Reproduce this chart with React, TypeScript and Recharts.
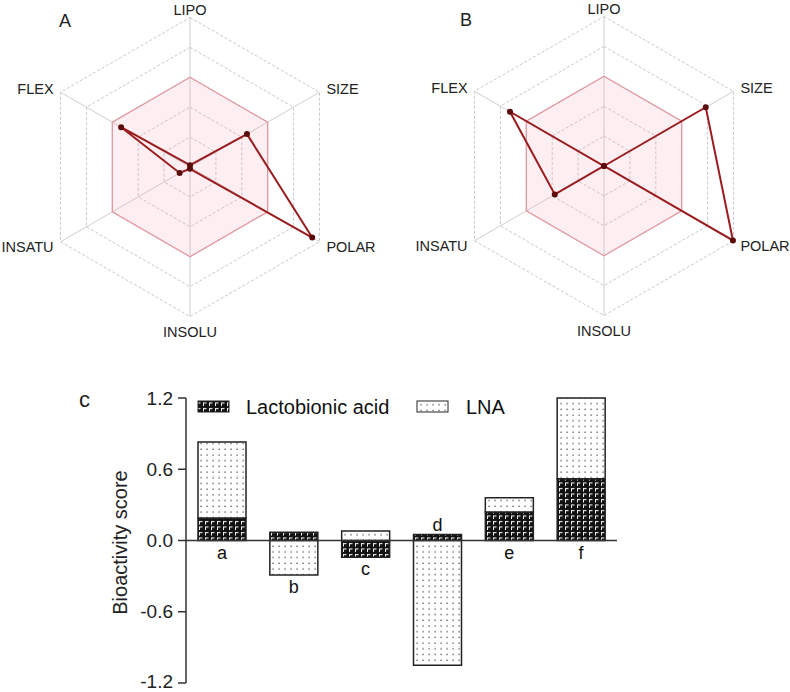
import {
    RadarChart,
    Radar,
    PolarGrid,
    PolarAngleAxis,
    PolarRadiusAxis,
    ComposedChart,
    Bar,
    Line,
    LabelList,
    XAxis,
    YAxis,
    ReferenceLine,
    Label
} from 'recharts';

const FONT = '"Liberation Sans", Arial, sans-serif';

// radar panels (SwissADME style), scale 0..5
const RADAR_AXES = ['LIPO', 'SIZE', 'POLAR', 'INSOLU', 'INSATU', 'FLEX'];
const RADAR_A = [0.06, 2.2, 4.72, 0.06, 0.4, 2.66];
const RADAR_B = [0, 3.93, 4.98, 0, 1.9, 3.63];
const IDEAL_ZONE = [3, 3, 3, 3, 3, 3];

// bar panel c
const CATEGORIES = ['a', 'b', 'c', 'd', 'e', 'f'];
const LACTOBIONIC = [0.19, 0.07, -0.14, 0.05, 0.24, 0.52];
const LNA = [0.64, -0.29, 0.08, -1.05, 0.12, 0.68];
const LABEL_SIDE = ['below', 'below', 'below', 'above', 'below', 'below'];
const Y_TICKS = [1.2, 0.6, 0, -0.6, -1.2];

const radarData = (values: number[]) =>
    RADAR_AXES.map((axis, i) => ({ axis, value: values[i], ideal: IDEAL_ZONE[i] }));

const barData = CATEGORIES.map((name, i) => {
    const vals = [LACTOBIONIC[i], LNA[i]];
    const pos = vals.filter(v => v > 0).reduce((s, v) => s + v, 0);
    const neg = vals.filter(v => v < 0).reduce((s, v) => s + v, 0);
    return {
        name,
        lacto: LACTOBIONIC[i],
        lna: LNA[i],
        anchor: LABEL_SIDE[i] === 'above' ? pos : neg,
    };
});

const AngleTick = (props: any) => {
    const { x, y, payload, textAnchor } = props;
    const dy = payload.value === 'INSOLU' ? 7 : payload.value === 'LIPO' ? 0 : 1;
    return (
        <text x={x} y={y + dy} textAnchor={textAnchor} dominantBaseline="central"
            fontSize={14.5} fill="#222" fontFamily={FONT}>
            {payload.value}
        </text>
    );
};

const SwissRadar = ({ values, cx, cy }: { values: number[]; cx: number; cy: number }) => (
    <RadarChart width={395} height={345} data={radarData(values)} cx={cx} cy={cy}
        outerRadius={149.5} margin={{ top: 0, right: 0, bottom: 0, left: 0 }}>
        <PolarGrid gridType="polygon" radialLines={false} stroke="#c9c9c9" strokeDasharray="3 2" />
        <PolarGrid gridType="polygon" polarRadius={[]} stroke="#cfcfcf" />
        <PolarRadiusAxis domain={[0, 5]} tickCount={6} axisLine={false} tick={false} />
        <PolarAngleAxis dataKey="axis" tick={<AngleTick />} tickLine={false} axisLine={false} />
        <Radar dataKey="ideal" stroke="#e39aa2" strokeWidth={1.3} fill="#f2a7b3"
            fillOpacity={0.18} isAnimationActive={false} />
        <Radar dataKey="value" stroke="#9b1c1f" strokeWidth={2} fill="none"
            dot={{ r: 2, fill: '#5c0b0b', stroke: '#5c0b0b' }} isAnimationActive={false} />
    </RadarChart>
);

const BarLegend = () => (
    <svg width={320} height={22} style={{ display: 'block' }}>
        <rect x={8} y={5} width={31} height={11} fill="url(#lactoPat)" stroke="#222" strokeWidth={1} />
        <text x={56} y={18} fontSize={20} fill="#111" fontFamily={FONT}>Lactobionic acid</text>
        <rect x={227} y={5} width={31} height={11} fill="url(#lnaPat)" stroke="#222" strokeWidth={1} />
        <text x={276} y={18} fontSize={20} fill="#111" fontFamily={FONT}>LNA</text>
    </svg>
);

const LetterLabel = (props: any) => {
    const { x, y, index } = props;
    const above = LABEL_SIDE[index] === 'above';
    return (
        <text x={x} y={above ? y - 4 : y + 18} textAnchor="middle" fontSize={18}
            fill="#111" fontFamily={FONT}>
            {CATEGORIES[index]}
        </text>
    );
};

const panelLetter = (left: number, top: number, size: number): React.CSSProperties => ({
    position: 'absolute', left, top, fontSize: size, fontFamily: FONT, color: '#222', lineHeight: 1,
});

const App = () => {
    return (
        <div style={{ position: 'absolute', left: 0, top: 0, width: 790, height: 692, background: '#fff', fontFamily: FONT }}>
            <div style={{ position: 'absolute', left: 0, top: 0 }}>
                <SwissRadar values={RADAR_A} cx={190} cy={167} />
            </div>
            <div style={{ position: 'absolute', left: 395, top: 0 }}>
                <SwissRadar values={RADAR_B} cx={209} cy={166} />
            </div>
            <div style={panelLetter(59, 12, 18)}>A</div>
            <div style={panelLetter(460, 11, 18)}>B</div>
            <div style={panelLetter(79, 389, 22)}>c</div>

            <div style={{ position: 'absolute', left: 0, top: 355 }}>
                <ComposedChart width={790} height={337} data={barData} stackOffset="sign"
                    margin={{ top: 43, right: 173, bottom: 9, left: 126 }}>
                    <defs>
                        <pattern id="lnaPat" width={6} height={5.7} patternUnits="userSpaceOnUse">
                            <rect width={6} height={5.7} fill="#fff" />
                            <rect x={2.5} y={2.5} width={1.2} height={1.2} fill="#333" />
                        </pattern>
                        <pattern id="lactoPat" width={6} height={5.5} patternUnits="userSpaceOnUse">
                            <rect width={6} height={5.5} fill="#111" />
                            <path d="M1.5 4.5 V1.5 H4.5" stroke="#eee" strokeWidth={1} fill="none" />
                        </pattern>
                    </defs>
                    <XAxis dataKey="name" hide />
                    <YAxis domain={[-1.2, 1.2]} ticks={Y_TICKS} width={60} tickSize={8} tickMargin={5}
                        axisLine={{ stroke: '#333', strokeWidth: 1.5 }}
                        tickLine={{ stroke: '#333', strokeWidth: 1.5 }}
                        tick={{ fontSize: 19, fill: '#222', fontFamily: FONT }}
                        tickFormatter={(v: number) => v.toFixed(1)}>
                        <Label content={(p: any) => {
                            const vb = p.viewBox;
                            const lx = vb.x - 6;
                            const ly = vb.y + vb.height / 2 + 2;
                            return (
                                <text x={lx} y={ly} transform={`rotate(-90 ${lx} ${ly})`} textAnchor="middle"
                                    dominantBaseline="central" fontSize={20} fill="#222" fontFamily={FONT}>
                                    Bioactivity score
                                </text>
                            );
                        }} />
                    </YAxis>
                    <Bar dataKey="lacto" name="Lactobionic acid" stackId="s" barSize={48}
                        fill="url(#lactoPat)" stroke="#222" strokeWidth={1.5} isAnimationActive={false} />
                    <Bar dataKey="lna" name="LNA" stackId="s" barSize={48}
                        fill="url(#lnaPat)" stroke="#222" strokeWidth={1.5} isAnimationActive={false} />
                    <ReferenceLine y={0} stroke="#333" strokeWidth={1.5} />
                    <Line dataKey="anchor" stroke="none" dot={false} activeDot={false}
                        legendType="none" isAnimationActive={false}>
                        <LabelList dataKey="anchor" content={<LetterLabel />} />
                    </Line>
                </ComposedChart>
            </div>
            <div style={{ position: 'absolute', left: 190, top: 396 }}>
                <BarLegend />
            </div>
        </div>
    );
};

export default App;
